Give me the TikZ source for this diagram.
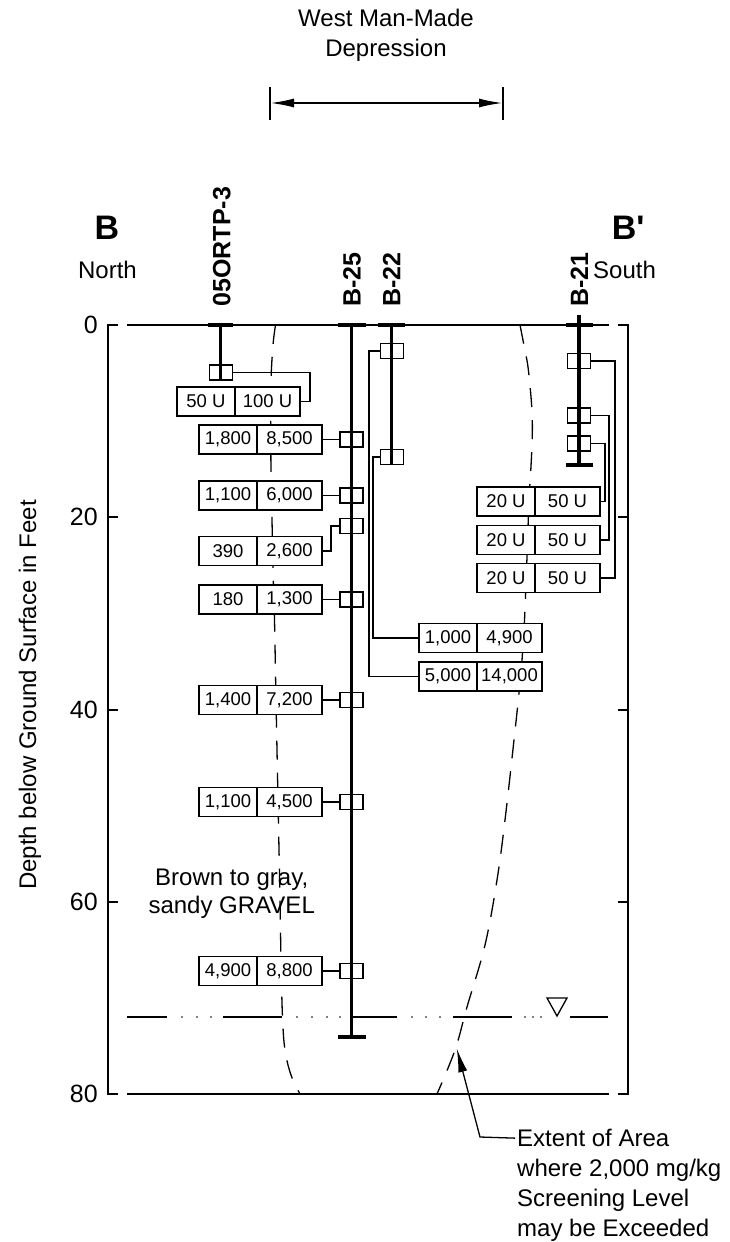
\documentclass[tikz,border=0pt]{standalone}
\usepackage{fontspec}
\setmainfont{Liberation Sans}
\usetikzlibrary{arrows.meta}
\newcommand{\cellpair}[5]{%
  \node[cellL, anchor=west] (#1l) at (#2,#3) {#4};
  \node[cellR, anchor=west] (#1r) at (#1l.east) {#5};}
\begin{document}
\begin{tikzpicture}[x=1pt,y=-1pt,
  txt/.style={inner sep=0, font=\fontsize{24}{29}\selectfont},
  num/.style={inner sep=0, anchor=east, font=\fontsize{25}{29}\selectfont},
  bh/.style={inner sep=0, rotate=90, anchor=west, font=\bfseries\fontsize{25}{30}\selectfont},
  big/.style={inner sep=0, font=\bfseries\fontsize{34}{40}\selectfont},
  cellbase/.style={draw, fill=white, line width=1.4, minimum height=29, inner sep=0, outer sep=0, font=\fontsize{18.5}{20}\selectfont},
  cellL/.style={cellbase, minimum width=58},
  cellR/.style={cellbase, minimum width=65},
  samp/.style={draw, line width=1.4, minimum width=23, minimum height=15, inner sep=0, outer sep=0},
  lead/.style={line width=1.3},
  hole/.style={line width=3.3},
  holecap/.style={line width=4.5},
  frame/.style={line width=2.6},
  curve/.style={line width=1.3, dash pattern=on 19pt off 13pt},
  wt/.style={line width=1.4}
]
\fill[white] (0,0) rectangle (729,1242);
\useasboundingbox (0,0) rectangle (729,1242);

% title and dimension
\node[txt, anchor=base] (t1) at (386,26.7) {West Man-Made};
\node[txt, anchor=base] (t2) at (386,56.7) {Depression};
\coordinate (dl) at (270,103);
\coordinate (dr) at (503,103);
\draw[line width=1.3] (270,87) -- (270,120);
\draw[line width=1.3] (503,87) -- (503,120);
\draw[line width=2, {Latex[length=24,width=9]}-{Latex[length=24,width=9]}] (dl) -- (dr);

% section labels
\node[big] (B) at (107,227.5) {B};
\node[big, anchor=west] (Bp) at (611.7,227.5) {B\textquotesingle};
\node[txt, anchor=base] (north) at (107.5,278) {North};
\node[txt, anchor=base west] (south) at (593,278) {South};

% borehole labels
\node[bh] (l0) at (221.7,306.7) {05ORTP-3};
\node[bh] (l25) at (352,306.7) {B-25};
\node[bh] (l22) at (391.7,306.7) {B-22};
\node[bh] (l21) at (579.3,306.7) {B-21};

% axis
\draw[frame] (118,325) -- (108,325) -- (108,1094) -- (118,1094);
\foreach \yy in {517,710,902} \draw[frame] (108,\yy) -- (118,\yy);
\draw[frame] (618,325) -- (628,325) -- (628,1094) -- (618,1094);
\foreach \yy in {517,710,902} \draw[frame] (628,\yy) -- (618,\yy);
\node[num] (n0) at (98,325) {0};
\node[num] (n20) at (98,517) {20};
\node[num] (n40) at (98,710) {40};
\node[num] (n60) at (98,902) {60};
\node[num] (n80) at (98,1094) {80};
\node[txt, rotate=90] (axl) at (30,695) {Depth below Ground Surface in Feet};

% extent curves
\draw[curve] plot[smooth, tension=0.6] coordinates {(275.5,325) (273,345) (271,380) (270.7,420) (271,470) (272,520) (273.3,580) (274.5,620) (276,700) (278,800) (280,900) (281,960) (282.5,1017) (285,1050) (291,1075) (300,1094)};
\draw[curve] plot[smooth, tension=0.6] coordinates {(520,325) (524.3,347) (528,367) (531,397) (532.3,420) (532,445) (530.5,475) (529,500) (527,557) (524.5,620) (522,660) (519,693) (514,740) (505,820) (497,880) (485,945) (467,1007) (455,1050) (437,1094)};

% ground and bottom lines
\draw[line width=2.8] (127,325) -- (609,325);
\draw[line width=1.5] (127,1094) -- (609,1094);

% water table
\draw[wt] (127,1017) -- (167,1017) (223,1017) -- (282,1017) (352,1017) -- (397,1017) (453,1017) -- (512,1017) (570,1017) -- (608,1017);
\foreach \xx in {182,197,211,297,312,327,340,412,426,440,525,533,541}
  \fill (\xx,1017) circle (0.8);
\draw[line width=1.3] (547,998) -- (567,998) -- (557,1016) -- cycle;

% boreholes
\draw[hole] (220.7,325) -- (220.7,380);
\draw[holecap] (208,325) -- (233,325);
\draw[hole] (351.5,325) -- (351.5,1037);
\draw[holecap] (338,325) -- (366,325);
\draw[holecap] (338,1037) -- (366,1037);
\draw[hole] (391.7,325) -- (391.7,465);
\draw[holecap] (378,325) -- (405,325);
\draw[hole] (579,315) -- (579,465);
\draw[holecap] (566,325) -- (593,325);
\draw[holecap] (566,465) -- (593,465);

% sample squares
\node[samp] (s0) at (220.7,372.5) {};
\node[samp] (s1) at (351.5,439.5) {};
\node[samp] (s2) at (351.5,495.5) {};
\node[samp] (s3) at (351.5,526) {};
\node[samp] (s4) at (351.5,599.5) {};
\node[samp] (s5) at (351.5,700) {};
\node[samp] (s6) at (351.5,802) {};
\node[samp] (s7) at (351.5,971) {};
\node[samp] (s8) at (391.7,351) {};
\node[samp] (s9) at (391.7,457) {};
\node[samp] (s10) at (579,361) {};
\node[samp] (s11) at (579,415.5) {};
\node[samp] (s12) at (579,443.5) {};

% result boxes
\cellpair{p0}{177}{401.5}{50 U}{100 U}
\cellpair{p1}{199}{439.5}{1,800}{8,500}
\cellpair{p2}{199}{495.5}{1,100}{6,000}
\cellpair{p3}{199}{551}{390}{2,600}
\cellpair{p4}{199}{599.5}{180}{1,300}
\cellpair{p5}{199}{700}{1,400}{7,200}
\cellpair{p6}{199}{802}{1,100}{4,500}
\cellpair{p7}{199}{971}{4,900}{8,800}
\cellpair{q1}{419}{638}{1,000}{4,900}
\cellpair{q2}{419}{676.5}{5,000}{14,000}
\cellpair{r1}{477}{501.5}{20 U}{50 U}
\cellpair{r2}{477}{540}{20 U}{50 U}
\cellpair{r3}{477}{578}{20 U}{50 U}

% leaders
\draw[lead] (s0.east) -| ([xshift=10pt]p0r.east) -- (p0r.east);
\draw[lead] (s1.west) -- (p1r.east);
\draw[lead] (s2.west) -- (p2r.east);
\draw[lead] (s3.west) -| ([xshift=9pt]p3r.east) -- (p3r.east);
\draw[lead] (s4.west) -- (p4r.east);
\draw[lead] (s5.west) -- (p5r.east);
\draw[lead] (s6.west) -- (p6r.east);
\draw[lead] (s7.west) -- (p7r.east);
\draw[lead] (s8.west) -| ([xshift=-50pt]q2l.west) -- (q2l.west);
\draw[lead] (s9.west) -| ([xshift=-46pt]q1l.west) -- (q1l.west);
\draw[lead] (s10.east) -| ([xshift=15pt]r3r.east) -- (r3r.east);
\draw[lead] (s11.east) -| ([xshift=9pt]r2r.east) -- (r2r.east);
\draw[lead] (s12.east) -| ([xshift=5pt]r1r.east) -- (r1r.east);

% soil description
\node[txt, anchor=base] (soil1) at (231.7,885) {Brown to gray,};
\node[txt, anchor=base] (soil2) at (231.7,913) {sandy GRAVEL};

% callout
\node[txt, anchor=base west] (c1) at (517,1146.7) {Extent of Area};
\node[txt, anchor=base west] (c2) at (517,1176.7) {where 2,000 mg/kg};
\node[txt, anchor=base west] (c3) at (517,1206.7) {Screening Level};
\node[txt, anchor=base west] (c4) at (517,1236.7) {may be Exceeded};
\coordinate (tip) at (456.7,1048.3);
\coordinate (bend) at (480,1137);
\draw[line width=1.3, -{Latex[length=24,width=9]}] ([xshift=-2pt]c1.west) -- (bend) -- (tip);
\end{tikzpicture}
\end{document}
